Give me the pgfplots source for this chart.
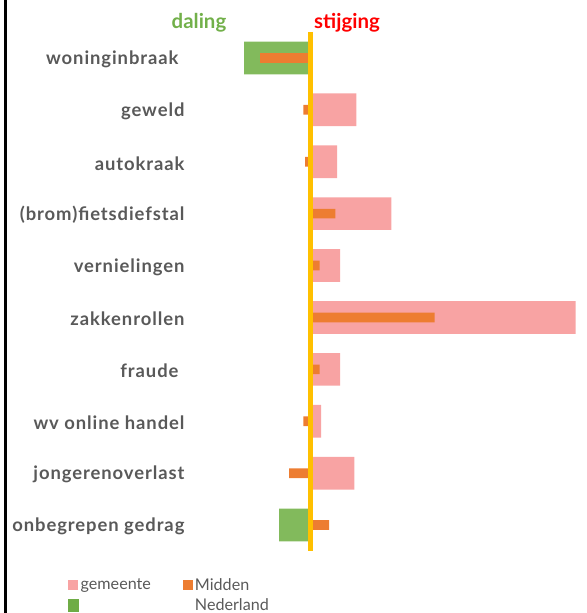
\documentclass[border=0pt]{standalone}
\usepackage{fontspec}
\setmainfont{Lato}
\newfontfamily\labfont[LetterSpace=5]{Lato}
\usepackage{pgfplots}
\pgfplotsset{compat=1.18}
\definecolor{pinkc}{HTML}{F8A3A3}
\definecolor{orangec}{HTML}{ED7D31}
\definecolor{greenc}{HTML}{82BA5C}
\definecolor{greenleg}{HTML}{6FAC46}
\definecolor{goldc}{HTML}{FFC000}
\definecolor{labgray}{HTML}{595959}
\definecolor{titlegreen}{HTML}{72B04A}
\begin{document}
\begin{tikzpicture}
\useasboundingbox (0,0) rectangle (587bp,613bp);
\draw[black, line width=2.5bp] (5.3bp,0) -- (5.3bp,613bp);
\node[font=\fontsize{20.5}{24}\selectfont\bfseries, text=titlegreen] at (199bp,590bp) {daling};
\node[font=\fontsize{20.5}{24}\selectfont\bfseries, text=red] at (347bp,590bp) {stijging};
\begin{axis}[
  at={(200bp,62bp)}, anchor=south west,
  scale only axis,
  width=380bp, height=519bp,
  xmin=-110.5, xmax=269.5,
  ymin=-0.5, ymax=9.5,
  y dir=reverse,
  axis line style={draw=none},
  xtick=\empty,
  ytick={0,...,9},
  yticklabels={woninginbraak\kern6bp\null, geweld, autokraak, (brom)fietsdiefstal, vernielingen, zakkenrollen, fraude\kern6bp\null, wv online handel, jongerenoverlast, onbegrepen gedrag},
  yticklabel style={font=\labfont\fontsize{18.5}{21}\selectfont\bfseries, text=labgray, xshift=-12bp, yshift=-1.5bp},
  major tick length=0pt,
  clip=false,
  legend columns=2,
  legend style={at={(-0.355,-0.045)}, anchor=north west, draw=none, fill=none,
    font=\fontsize{16.2}{18}\selectfont, text=labgray,
    /tikz/every even column/.append style={column sep=30bp},
    row sep=3bp},
  legend cell align=left,
]
\addplot[xbar, bar width=32.7bp, bar shift=0pt, fill=pinkc, draw=none,
  legend image code/.code={\fill[pinkc] (0bp,-5bp) rectangle (10bp,5bp);}]
  coordinates {(45.8,1) (26.5,2) (80.8,3) (29.5,4) (265.2,5) (29.5,6) (10.5,7) (43.8,8)};
\addlegendentry{gemeente}
\addplot[xbar, bar width=32.7bp, bar shift=0pt, fill=greenc, draw=none, forget plot]
  coordinates {(-66.5,0) (-31.5,9)};
\addplot[xbar, bar width=9.7bp, bar shift=0pt, fill=orangec, draw=none,
  legend image code/.code={\fill[orangec] (0bp,-5bp) rectangle (10bp,5bp);}]
  coordinates {(-50.5,0) (-7.2,1) (-5.5,2) (24.8,3) (9.2,4) (124.2,5) (9.2,6) (-7.2,7) (-21.5,8) (18.5,9)};
\addlegendentry{Midden}
\addlegendimage{legend image code/.code={\fill[greenleg] (0bp,-6bp) rectangle (10bp,6bp);}}
\addlegendentry{}
\addlegendimage{empty legend}
\addlegendentry{Nederland}
\draw[goldc, line width=4.4bp] (axis cs:0,-0.5) -- (axis cs:0,9.5);
\end{axis}
\end{tikzpicture}
\end{document}
